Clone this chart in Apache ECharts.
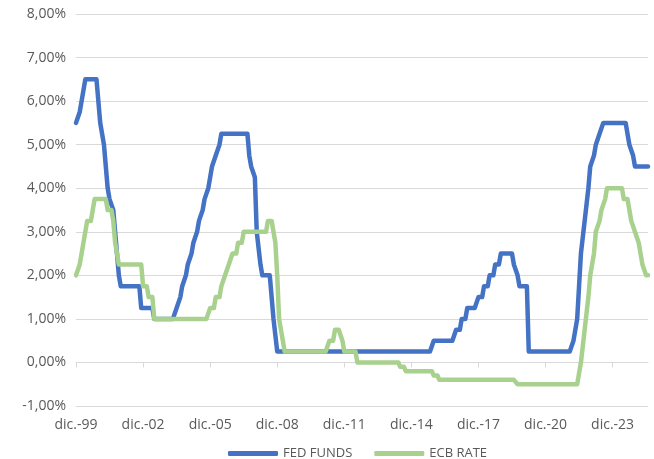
<!DOCTYPE html>
<html>
<head>
<meta charset="utf-8">
<style>
  html, body { margin: 0; padding: 0; background: #fff; }
  #chart { width: 654px; height: 459px; }
</style>
<script src="https://cdn.jsdelivr.net/npm/echarts@6/dist/echarts.min.js"></script>
</head>
<body>
<div id="chart"></div>
<script>
// meses (dic. 1999 - jul. 2025)
const monthNames = ['ene.', 'feb.', 'mar.', 'abr.', 'may.', 'jun.', 'jul.', 'ago.', 'sept.', 'oct.', 'nov.', 'dic.']
const firstYear = 1999
const firstMonth = 11 // dic.
const lastYear = 2025
const lastMonth = 6 // jul.

// FED FUNDS, fin de mes (%)
const fedFunds = [
  5.50,
  5.50, 5.75, 6.00, 6.00, 6.50, 6.50, 6.50, 6.50, 6.50, 6.50, 6.50, 6.50, // 2000
  5.50, 5.50, 5.00, 4.50, 4.00, 3.75, 3.75, 3.50, 3.00, 2.50, 2.00, 1.75, // 2001
  1.75, 1.75, 1.75, 1.75, 1.75, 1.75, 1.75, 1.75, 1.75, 1.75, 1.25, 1.25, // 2002
  1.25, 1.25, 1.25, 1.25, 1.25, 1.00, 1.00, 1.00, 1.00, 1.00, 1.00, 1.00, // 2003
  1.00, 1.00, 1.00, 1.00, 1.00, 1.25, 1.25, 1.50, 1.75, 1.75, 2.00, 2.25, // 2004
  2.25, 2.50, 2.75, 2.75, 3.00, 3.25, 3.25, 3.50, 3.75, 3.75, 4.00, 4.25, // 2005
  4.50, 4.50, 4.75, 4.75, 5.00, 5.25, 5.25, 5.25, 5.25, 5.25, 5.25, 5.25, // 2006
  5.25, 5.25, 5.25, 5.25, 5.25, 5.25, 5.25, 5.25, 4.75, 4.50, 4.50, 4.25, // 2007
  3.00, 3.00, 2.25, 2.00, 2.00, 2.00, 2.00, 2.00, 2.00, 1.00, 1.00, 0.25, // 2008
  0.25, 0.25, 0.25, 0.25, 0.25, 0.25, 0.25, 0.25, 0.25, 0.25, 0.25, 0.25, // 2009
  0.25, 0.25, 0.25, 0.25, 0.25, 0.25, 0.25, 0.25, 0.25, 0.25, 0.25, 0.25, // 2010
  0.25, 0.25, 0.25, 0.25, 0.25, 0.25, 0.25, 0.25, 0.25, 0.25, 0.25, 0.25, // 2011
  0.25, 0.25, 0.25, 0.25, 0.25, 0.25, 0.25, 0.25, 0.25, 0.25, 0.25, 0.25, // 2012
  0.25, 0.25, 0.25, 0.25, 0.25, 0.25, 0.25, 0.25, 0.25, 0.25, 0.25, 0.25, // 2013
  0.25, 0.25, 0.25, 0.25, 0.25, 0.25, 0.25, 0.25, 0.25, 0.25, 0.25, 0.25, // 2014
  0.25, 0.25, 0.25, 0.25, 0.25, 0.25, 0.25, 0.25, 0.25, 0.25, 0.25, 0.50, // 2015
  0.50, 0.50, 0.50, 0.50, 0.50, 0.50, 0.50, 0.50, 0.50, 0.50, 0.50, 0.75, // 2016
  0.75, 0.75, 1.00, 1.00, 1.00, 1.25, 1.25, 1.25, 1.25, 1.25, 1.25, 1.50, // 2017
  1.50, 1.50, 1.75, 1.75, 1.75, 2.00, 2.00, 2.00, 2.25, 2.25, 2.25, 2.50, // 2018
  2.50, 2.50, 2.50, 2.50, 2.50, 2.50, 2.25, 2.25, 2.00, 1.75, 1.75, 1.75, // 2019
  1.75, 1.75, 0.25, 0.25, 0.25, 0.25, 0.25, 0.25, 0.25, 0.25, 0.25, 0.25, // 2020
  0.25, 0.25, 0.25, 0.25, 0.25, 0.25, 0.25, 0.25, 0.25, 0.25, 0.25, 0.25, // 2021
  0.25, 0.25, 0.50, 0.50, 1.00, 1.75, 2.50, 2.50, 3.25, 3.25, 4.00, 4.50, // 2022
  4.50, 4.75, 5.00, 5.00, 5.25, 5.25, 5.50, 5.50, 5.50, 5.50, 5.50, 5.50, // 2023
  5.50, 5.50, 5.50, 5.50, 5.50, 5.50, 5.50, 5.50, 5.00, 5.00, 4.75, 4.50, // 2024
  4.50, 4.50, 4.50, 4.50, 4.50, 4.50, 4.50                                // 2025
]

// ECB RATE (facilidad de depósito), fin de mes (%)
const ecbRate = [
  2.00,
  2.00, 2.25, 2.50, 2.75, 2.75, 3.25, 3.25, 3.25, 3.50, 3.75, 3.75, 3.75, // 2000
  3.75, 3.75, 3.75, 3.75, 3.50, 3.50, 3.50, 3.25, 2.75, 2.75, 2.25, 2.25, // 2001
  2.25, 2.25, 2.25, 2.25, 2.25, 2.25, 2.25, 2.25, 2.25, 2.25, 2.25, 1.75, // 2002
  1.75, 1.75, 1.50, 1.50, 1.50, 1.00, 1.00, 1.00, 1.00, 1.00, 1.00, 1.00, // 2003
  1.00, 1.00, 1.00, 1.00, 1.00, 1.00, 1.00, 1.00, 1.00, 1.00, 1.00, 1.00, // 2004
  1.00, 1.00, 1.00, 1.00, 1.00, 1.00, 1.00, 1.00, 1.00, 1.00, 1.00, 1.25, // 2005
  1.25, 1.25, 1.50, 1.50, 1.50, 1.75, 1.75, 2.00, 2.00, 2.25, 2.25, 2.50, // 2006
  2.50, 2.50, 2.75, 2.75, 2.75, 3.00, 3.00, 3.00, 3.00, 3.00, 3.00, 3.00, // 2007
  3.00, 3.00, 3.00, 3.00, 3.00, 3.00, 3.25, 3.25, 3.25, 3.25, 2.75, 2.00, // 2008
  1.00, 1.00, 0.50, 0.25, 0.25, 0.25, 0.25, 0.25, 0.25, 0.25, 0.25, 0.25, // 2009
  0.25, 0.25, 0.25, 0.25, 0.25, 0.25, 0.25, 0.25, 0.25, 0.25, 0.25, 0.25, // 2010
  0.25, 0.25, 0.25, 0.50, 0.50, 0.50, 0.75, 0.75, 0.75, 0.75, 0.50, 0.25, // 2011
  0.25, 0.25, 0.25, 0.25, 0.25, 0.25, 0.00, 0.00, 0.00, 0.00, 0.00, 0.00, // 2012
  0.00, 0.00, 0.00, 0.00, 0.00, 0.00, 0.00, 0.00, 0.00, 0.00, 0.00, 0.00, // 2013
  0.00, 0.00, 0.00, 0.00, 0.00, -0.10, -0.10, -0.10, -0.20, -0.20, -0.20, -0.20, // 2014
  -0.20, -0.20, -0.20, -0.20, -0.20, -0.20, -0.20, -0.20, -0.20, -0.20, -0.20, -0.30, // 2015
  -0.30, -0.30, -0.40, -0.40, -0.40, -0.40, -0.40, -0.40, -0.40, -0.40, -0.40, -0.40, // 2016
  -0.40, -0.40, -0.40, -0.40, -0.40, -0.40, -0.40, -0.40, -0.40, -0.40, -0.40, -0.40, // 2017
  -0.40, -0.40, -0.40, -0.40, -0.40, -0.40, -0.40, -0.40, -0.40, -0.40, -0.40, -0.40, // 2018
  -0.40, -0.40, -0.40, -0.40, -0.40, -0.40, -0.40, -0.40, -0.50, -0.50, -0.50, -0.50, // 2019
  -0.50, -0.50, -0.50, -0.50, -0.50, -0.50, -0.50, -0.50, -0.50, -0.50, -0.50, -0.50, // 2020
  -0.50, -0.50, -0.50, -0.50, -0.50, -0.50, -0.50, -0.50, -0.50, -0.50, -0.50, -0.50, // 2021
  -0.50, -0.50, -0.50, -0.50, -0.50, -0.50, 0.00, 0.00, 0.75, 0.75, 1.50, 2.00, // 2022
  2.00, 2.50, 3.00, 3.00, 3.25, 3.50, 3.50, 3.75, 4.00, 4.00, 4.00, 4.00, // 2023
  4.00, 4.00, 4.00, 4.00, 4.00, 3.75, 3.75, 3.75, 3.50, 3.25, 3.25, 3.00, // 2024
  3.00, 2.75, 2.50, 2.25, 2.25, 2.00, 2.00                                // 2025
]

// etiquetas de eje
const categories = []
for (let y = firstYear; y <= lastYear; y++) {
  const m0 = y === firstYear ? firstMonth : 0
  const m1 = y === lastYear ? lastMonth : 11
  for (let m = m0; m <= m1; m++) {
    categories.push(monthNames[m] + '-' + String(y).slice(2))
  }
}

const fontFamily = '"Open Sans", "Noto Sans", sans-serif'
const textColor = '#595959'

const chart = echarts.init(document.getElementById('chart'))

const option = {
  animation: false,
  color: ['#4472C4', '#A9D18E'],
  grid: {
    left: 76,
    right: 6,
    top: 14,
    bottom: 53,
  },
  legend: {
    top: 442,
    left: 223,
    itemWidth: 50,
    itemHeight: 5,
    itemGap: 22,
    icon: 'roundRect',
    textStyle: {
      color: textColor,
      fontSize: 13,
      fontFamily: fontFamily,
    },
    data: ['FED FUNDS', 'ECB RATE'],
  },
  xAxis: {
    type: 'category',
    boundaryGap: false,
    data: categories,
    axisLine: {
      onZero: true,
      lineStyle: { color: '#D9D9D9', width: 1 },
    },
    axisTick: {
      show: true,
      interval: 35,
      length: 5,
      lineStyle: { color: '#D9D9D9' },
    },
    axisLabel: {
      interval: 35,
      margin: 12,
      color: textColor,
      fontSize: 14,
      fontFamily: fontFamily,
    },
    splitLine: { show: false },
  },
  yAxis: {
    type: 'value',
    min: -1,
    max: 8,
    interval: 1,
    axisLine: { show: false },
    axisTick: { show: false },
    axisLabel: {
      margin: 10,
      color: textColor,
      fontSize: 14,
      fontFamily: fontFamily,
      formatter: function (value) {
        return value.toFixed(2).replace('.', ',') + '%'
      },
    },
    splitLine: {
      lineStyle: { color: '#D9D9D9', width: 1 },
    },
  },
  series: [
    {
      name: 'FED FUNDS',
      type: 'line',
      data: fedFunds,
      symbol: 'none',
      lineStyle: { width: 4.5, cap: 'round', join: 'round' },
    },
    {
      name: 'ECB RATE',
      type: 'line',
      data: ecbRate,
      symbol: 'none',
      lineStyle: { width: 4.5, cap: 'round', join: 'round' },
    },
  ],
}

chart.setOption(option)
</script>
</body>
</html>
